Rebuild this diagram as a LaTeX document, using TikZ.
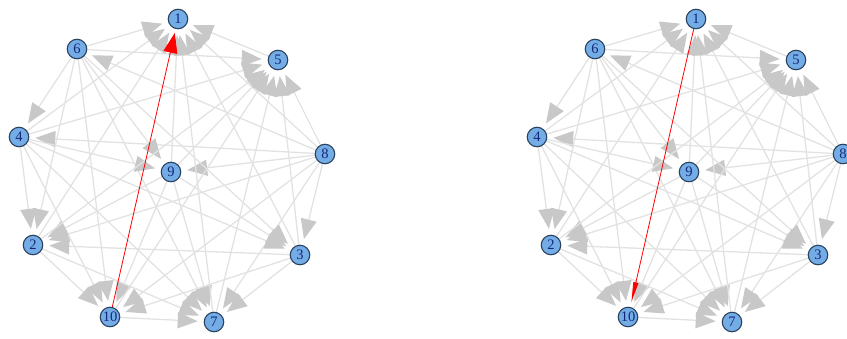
\documentclass[tikz,border=0pt]{standalone}
\usepackage{fontspec}
\setmainfont{Liberation Serif}
\usetikzlibrary{arrows.meta}
\pgfdeclarelayer{bg}
\pgfsetlayers{bg,main}
\definecolor{linegray}{HTML}{E2E2E2}
\definecolor{tipgray}{HTML}{C8C8C8}
\definecolor{vfill}{HTML}{74ACE6}
\definecolor{vborder}{HTML}{2A4360}
\definecolor{vtext}{HTML}{14287A}
\begin{document}
\begin{tikzpicture}[x=1pt,y=-1pt,
  vert/.style={circle,draw=vborder,line width=1.1pt,fill=vfill,text=vtext,minimum size=19.5pt,inner sep=0pt,font=\fontsize{14.5}{14.5}\selectfont},
  edge/.style={draw=linegray,line width=1.3pt,shorten >=6pt,-{Triangle[length=20pt,width=16pt,color=tipgray]}},
  rededge/.style={draw=red,line width=0.8pt,shorten >=4pt,-{Triangle[length=20pt,width=14pt,color=red]}},
  thinred/.style={draw=red,line width=0.8pt,shorten >=5pt,-{Triangle[length=20pt,width=5pt,color=red]}}]
\useasboundingbox (0,0) rectangle (847,338);
\foreach \p/\dx in {L/0,R/518}{
  \node[vert] (\p1) at (178+\dx,19) {1};
  \node[vert] (\p6) at (77+\dx,49) {6};
  \node[vert] (\p5) at (278+\dx,60) {5};
  \node[vert] (\p4) at (19+\dx,137) {4};
  \node[vert] (\p8) at (325+\dx,154) {8};
  \node[vert] (\p9) at (171+\dx,172) {9};
  \node[vert] (\p2) at (33+\dx,245) {2};
  \node[vert] (\p3) at (300+\dx,255) {3};
  \node[vert] (\p10) at (110+\dx,317) {10};
  \node[vert] (\p7) at (214+\dx,322) {7};
}
\begin{pgfonlayer}{bg}
\foreach \p in {L,R}{
  \foreach \u/\v in {8/6,8/4,8/9,8/3,8/2,8/10,8/7,8/5,8/1,
                     6/4,6/9,6/3,6/2,6/10,6/7,6/5,6/1,
                     4/9,4/3,4/2,4/10,4/7,4/5,4/1,
                     9/3,9/2,9/10,9/7,9/5,9/1,
                     3/2,3/10,3/7,3/5,3/1,
                     2/10,2/7,2/5,2/1,
                     10/7,10/5,
                     7/5,7/1,
                     5/1}{
    \draw[edge] (\p\u.center) -- (\p\v);
  }
}
\draw[rededge] (L10.center) -- (L1);
\draw[thinred] (R1.center) -- (R10);
\end{pgfonlayer}
\end{tikzpicture}
\end{document}
